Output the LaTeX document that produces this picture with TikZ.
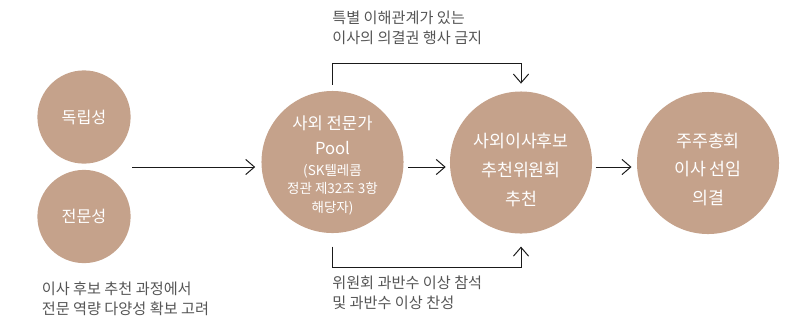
\documentclass[tikz,border=0pt]{standalone}
\usepackage{fontspec}
\setmainfont{Noto Sans CJK KR}
\usepackage{xcolor}
\usepackage{tikz}
\usetikzlibrary{arrows.meta,calc}
\definecolor{nomTan}{HTML}{C5A28B}
\definecolor{nomInk}{HTML}{1A1A1A}
\definecolor{nomMuted}{HTML}{555555}
\tikzset{
  nomdisc/.style={circle, fill=nomTan, draw=none, inner sep=0pt,
    text=white, align=center},
  nomsmall/.style={nomdisc, minimum size=2.33cm,
    font=\fontsize{11.5}{14}\selectfont},
  nombig/.style={nomdisc, minimum size=3.55cm},
  nomtext/.style={text=white, align=center, inner sep=0pt,
    font=\fontsize{12.3}{20.3}\selectfont},
  nomnote/.style={text=white, align=center, inner sep=0pt,
    font=\fontsize{9.6}{13.2}\selectfont},
  nomcaption/.style={text=nomMuted, align=left, anchor=west, inner sep=0pt,
    font=\fontsize{10.8}{14.2}\selectfont},
  nomflow/.style={-{Straight Barb[length=2.2mm,width=3.8mm]},
    draw=nomInk, line width=0.7pt},
}

\begin{document}
\begin{tikzpicture}[x=0.025cm,y=-0.025cm]
  \path[use as bounding box] (0,0) rectangle (788,324);

  % criteria
  \node[nomsmall] (indep) at (84,117) {독립성};
  \node[nomsmall] (expert) at (84,216.5) {전문성};
  \node[nomcaption] (leftnote) at (41.5,298.5)
    {이사 후보 추천 과정에서\\전문 역량 다양성 확보 고려};

  % pool, committee, shareholders' meeting
  \node[nombig] (pool) at (332.5,162) {};
  \node[nombig] (cmte) at (521,162.5) {};
  \node[nombig] (agm) at (708,163) {};
  \node[nomtext,font=\fontsize{11.8}{17.8}\selectfont] (pooltitle)
    at (332.5,135.5) {사외 전문가\\Pool};
  \node[nomnote] (poolnote) at (332.5,189.5)
    {(SK텔레콤\\정관 제32조 3항\\해당자)};
  \node[nomtext] (cmtetext) at (521,170) {사외이사후보\\추천위원회\\추천};
  \node[nomtext] (agmtext) at (708,169.5) {주주총회\\이사 선임\\의결};

  % main flow
  \coordinate (flowline) at (132,167);
  \draw[nomflow,shorten >=0.15cm] (flowline) -- (flowline -| pool.west);
  \draw[nomflow,shorten <=0.11cm,shorten >=0.1cm]
    (pool.east |- flowline) -- (cmte.west |- flowline);
  \draw[nomflow,shorten <=0.08cm,shorten >=0.13cm]
    (cmte.east |- flowline) -- (agm.west |- flowline);

  % committee rules
  \draw[nomflow,shorten <=0.15cm,shorten >=0.19cm]
    (pool.north) -- ++(0,-27) -| (cmte.north);
  \node[nomcaption] (topnote) at (332,27.5)
    {특별 이해관계가 있는\\이사의 의결권 행사 금지};
  \draw[nomflow,shorten <=0.33cm,shorten >=0.32cm]
    (pool.south) -- ++(0,34) -| (cmte.south);
  \node[nomcaption] (botnote) at (332,292.5)
    {위원회 과반수 이상 참석\\및 과반수 이상 찬성};
\end{tikzpicture}
\end{document}
